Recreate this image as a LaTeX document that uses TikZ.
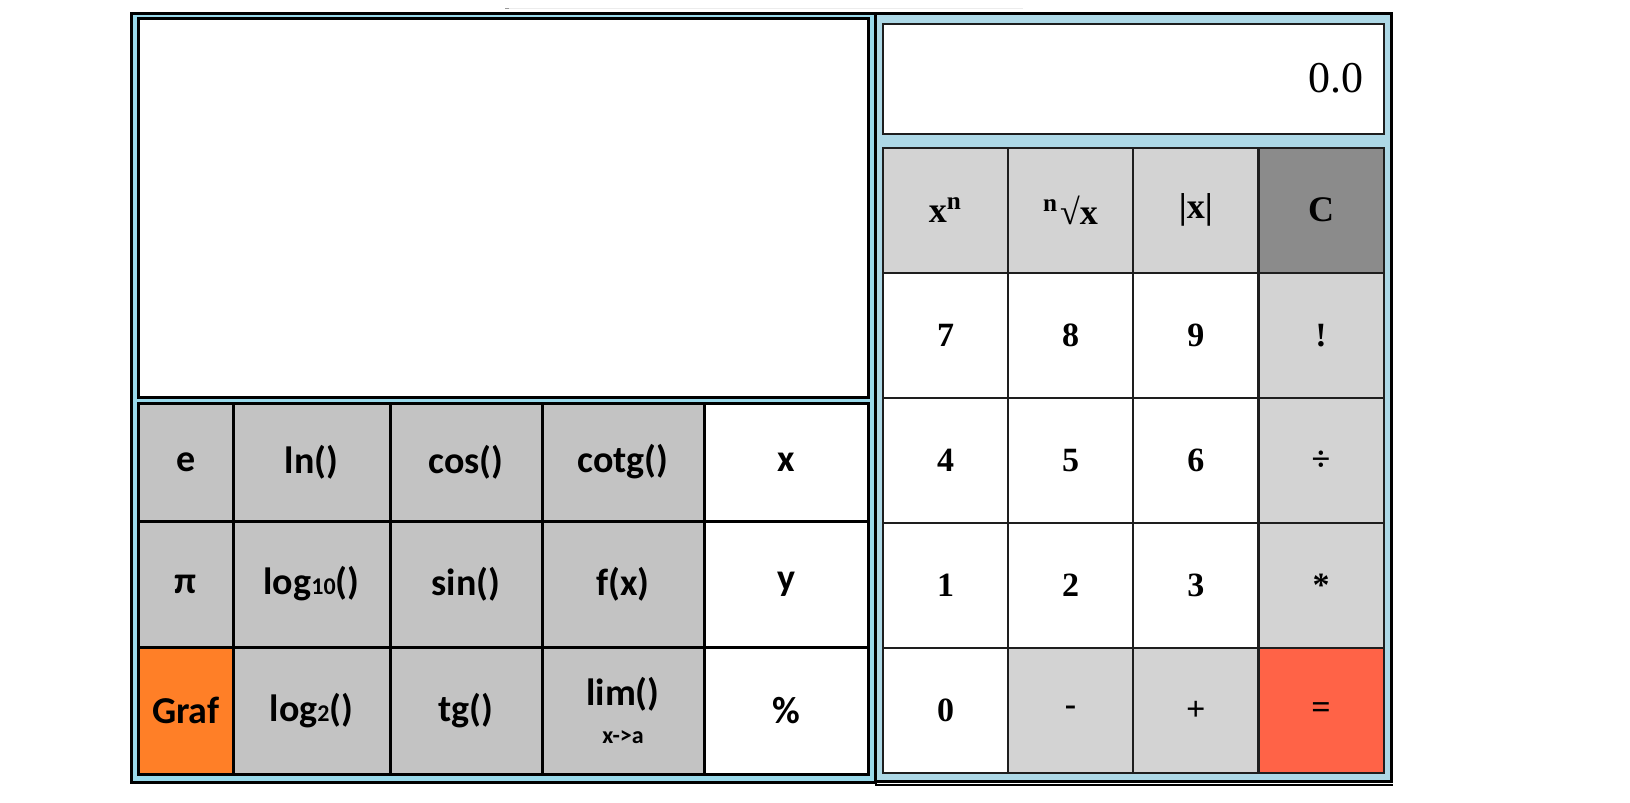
\documentclass[tikz,border=0pt]{standalone}
\usepackage{fontspec}
\setmainfont{Liberation Serif}
\newfontfamily\keyfont{Carlito}
\usetikzlibrary{positioning,fit}

\definecolor{graphblue}{HTML}{99D9EA}
\definecolor{calcblue}{HTML}{ADD8E6}
\definecolor{fungray}{HTML}{C3C3C3}
\definecolor{opgray}{HTML}{D3D3D3}
\definecolor{cleargray}{HTML}{8B8B8B}
\definecolor{graforange}{HTML}{FF7F27}
\definecolor{equalred}{HTML}{FF6347}
\definecolor{rimgray}{HTML}{1E1E1E}

\begin{document}
\begin{tikzpicture}[x=0.5pt, y=-0.5pt]

\tikzstyle{panel} = [rectangle, draw=black, line width=1.5pt, inner sep=0pt, outer sep=0pt]
\tikzstyle{fkey} = [rectangle, draw=black, line width=1.5pt, fill=fungray, inner sep=0pt, outer sep=0pt, align=center, font=\keyfont\bfseries\fontsize{19}{21}\selectfont]
\tikzstyle{nkey} = [rectangle, draw=rimgray, line width=1pt, fill=white, inner sep=0pt, outer sep=0pt, minimum width=62.5pt, minimum height=62.5pt, font=\bfseries\fontsize{17}{19}\selectfont]
\tikzstyle{okey} = [nkey, fill=opgray]

\useasboundingbox (0,0) rectangle (1630,803);

% faint line above the panels
\draw [gray!15, line width=0.5pt] (505,8) -- (1023,8);
\draw [gray!80, line width=0.5pt] (505,8) -- (509,8);

%% -----------------
%% -- GRAPH PANEL --
%% -----------------

\coordinate (graph_pt1) at (131.5,13.5);
\coordinate (graph_pt2) at (875.5,782);
\node (graph_panel) [panel, fill=graphblue, fit=(graph_pt1) (graph_pt2)] {};

% plot area
\node (graph_area) [panel, fill=white, minimum width=365pt, minimum height=189.5pt] at (503.5,208) {};

% function keys
\node (key_e)    [fkey, minimum width=47.25pt, minimum height=59pt] at (185.75,462) {e};
\node (key_ln)   [fkey, minimum width=78.5pt, minimum height=59pt] at (311.5,462) {ln()};
\node (key_cos)  [fkey, minimum width=76pt, minimum height=59pt] at (466,462) {cos()};
\node (key_cotg) [fkey, minimum width=81pt, minimum height=59pt] at (623,462) {cotg()};
\node (key_x)    [fkey, fill=white, minimum width=82.25pt, minimum height=59pt] at (786.25,462) {x};

\node (key_pi)    [fkey, minimum width=47.25pt, minimum height=63pt] at (185.75,584) {π};
\node (key_log10) [fkey, minimum width=78.5pt, minimum height=63pt] at (311.5,584) {log{\fontsize{12}{12}\selectfont 10}()};
\node (key_sin)   [fkey, minimum width=76pt, minimum height=63pt] at (466,584) {sin()};
\node (key_fx)    [fkey, minimum width=81pt, minimum height=63pt] at (623,584) {f(x)};
\node (key_y)     [fkey, fill=white, minimum width=82.25pt, minimum height=63pt] at (786.25,584) {y};

\node (key_graf)    [fkey, fill=graforange, minimum width=47.25pt, minimum height=63.75pt] at (185.75,710.75) {Graf};
\node (key_log2)    [fkey, minimum width=78.5pt, minimum height=63.75pt] at (311.5,710.75) {log{\fontsize{12}{12}\selectfont 2}()};
\node (key_tg)      [fkey, minimum width=76pt, minimum height=63.75pt] at (466,710.75) {tg()};
\node (key_lim)     [fkey, minimum width=81pt, minimum height=63.75pt] at (623,710.75) {lim()\\[-2pt]{\fontsize{12}{13}\selectfont x->a}};
\node (key_percent) [fkey, fill=white, minimum width=82.25pt, minimum height=63.75pt] at (786.25,710.75) {\%};

%% ----------------------
%% -- CALCULATOR PANEL --
%% ----------------------

\coordinate (calc_pt1) at (875.5,13.5);
\coordinate (calc_pt2) at (1391.5,781);
\node (calc_panel) [panel, fill=calcblue, fit=(calc_pt1) (calc_pt2)] {};
\draw [line width=1pt] (calc_panel.south west) -- ++(0,4) -- ++(517.5,0);

% result display
\node (result_area) [nkey, minimum width=250.25pt, minimum height=55pt] at (1133.25,79) {};
\node (result_text) [anchor=base east, inner sep=0pt, font=\fontsize{22}{24}\selectfont] at (1364,92) {0.0};

% keys
\node (key_pow)   [okey, font=\bfseries\fontsize{18}{20}\selectfont] at (945.5,210.25) {x\textsuperscript{n}};
\node (key_root)  [okey, font=\bfseries\fontsize{18}{20}\selectfont] at (1070.5,210.25) {\textsuperscript{n}\kern1pt√x};
\node (key_abs)   [okey, font=\bfseries\fontsize{18}{20}\selectfont] at (1195.75,210.25) {|x|};
\node (key_clear) [okey, fill=cleargray, font=\bfseries\fontsize{18}{20}\selectfont] at (1321,210.25) {C};

\node (key_7)    [nkey] at (945.5,335.5) {7};
\node (key_8)    [nkey] at (1070.5,335.5) {8};
\node (key_9)    [nkey] at (1195.75,335.5) {9};
\node (key_fact) [okey] at (1321,335.5) {!};

\node (key_4)   [nkey] at (945.5,460.5) {4};
\node (key_5)   [nkey] at (1070.5,460.5) {5};
\node (key_6)   [nkey] at (1195.75,460.5) {6};
\node (key_div) [okey] at (1321,460.5) {÷};

\node (key_1)   [nkey] at (945.5,585.5) {1};
\node (key_2)   [nkey] at (1070.5,585.5) {2};
\node (key_3)   [nkey] at (1195.75,585.5) {3};
\node (key_mul) [okey] at (1321,585.5) {*};

\node (key_0)     [nkey] at (945.5,710.5) {0};
\node (key_minus) [okey] at (1070.5,710.5) {-};
\node (key_plus)  [okey] at (1195.75,710.5) {+};
\node (key_eq)    [okey, fill=equalred] at (1321,710.5) {=};

\end{tikzpicture}
\end{document}
